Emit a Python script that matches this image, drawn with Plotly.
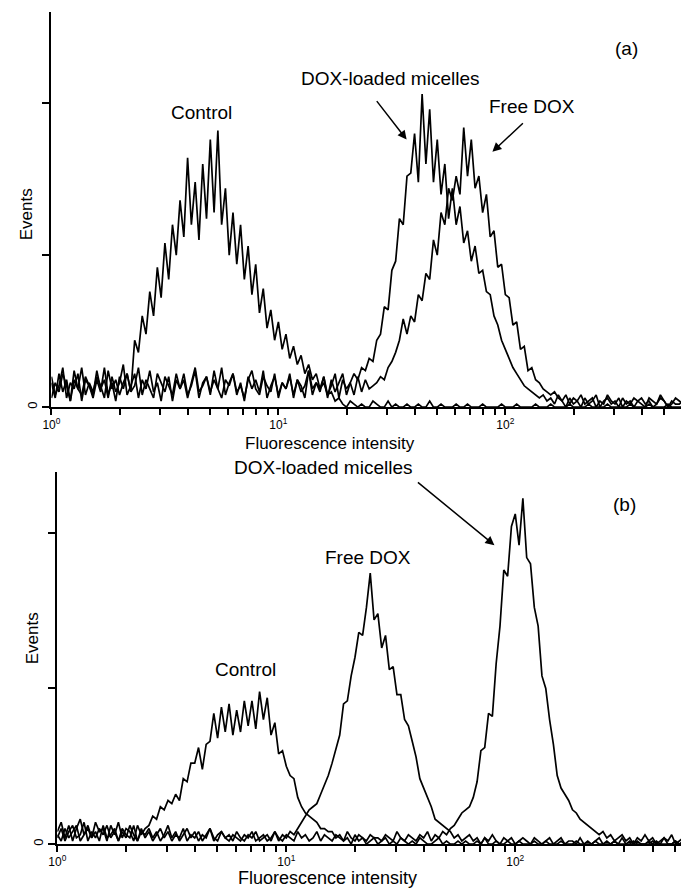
import numpy as np
import plotly.graph_objects as go

# Flow-cytometry histograms: event counts per log-spaced channel (60 channels per decade)
CHANNELS_PER_DECADE = 60

# (a) cell uptake
a_control = [
    8, 3, 11, 5, 9, 2, 12, 6, 4, 10, 7, 3,
    9, 5, 13, 4, 8, 2, 10, 6, 11, 5, 22, 18,
    30, 24, 38, 30, 46, 36, 54, 42, 60, 50, 68, 56,
    82, 60, 74, 55, 80, 62, 88, 64, 91, 60, 72, 50,
    64, 47, 60, 42, 53, 37, 47, 31, 39, 26, 32, 22,
    28, 19, 24, 16, 20, 14, 17, 11, 14, 9, 11, 6,
    8, 4, 5, 2, 3, 1, 0, 2, 1, 0, 1, 0,
    0, 2, 1, 0, 0, 2, 0, 1, 0, 0, 1, 0,
    0, 1, 0, 0, 2, 0, 0, 1, 0, 0, 0, 1,
    0, 0, 1, 0, 0, 0, 1, 0, 0, 0, 0, 1,
    0, 0, 0, 1, 0, 0, 0, 0, 1, 0, 0, 0,
    1, 0, 0, 0, 0, 1, 0, 0, 0, 0, 1, 0,
    0, 0, 0, 1, 0, 0, 0, 0, 0, 1, 0, 0,
    0, 0, 1, 0, 0, 0, 0, 1, 0, 0, 0, 0,
]
a_micelles = [
    10, 4, 7, 13, 3, 8, 6, 11, 2, 9, 7,
    4, 12, 6, 9, 3, 10, 5, 8, 14, 4, 7, 11,
    3, 9, 6, 12, 5, 8, 2, 10, 7, 4, 11, 6,
    9, 3, 8, 13, 5, 7, 10, 4, 12, 6, 3, 9,
    7, 11, 4, 8, 2, 10, 6, 9, 5, 12, 3, 7,
    10, 4, 8, 6, 11, 3, 9, 5, 7, 12, 4, 8,
    6, 10, 3, 9, 5, 8, 11, 4, 8, 11, 9, 13,
    12, 16, 15, 22, 24, 33, 32, 45, 48, 62, 60, 76,
    77, 90, 74, 103, 80, 98, 74, 88, 70, 80, 62, 72,
    60, 66, 54, 58, 48, 53, 44, 45, 38, 37, 30, 27,
    22, 19, 16, 13, 11, 9, 7, 6, 5, 4, 3, 4,
    2, 3, 1, 4, 2, 0, 3, 1, 2, 4, 1, 2,
    3, 0, 2, 1, 4, 2, 1, 3, 0, 2, 1, 3,
    2, 1, 0, 3, 2, 1, 4, 2, 0, 1, 3, 2, 1,
]
a_free = [
    3, 8, 5, 11, 7, 2, 9, 6, 13, 4,
    8, 5, 10, 7, 3, 12, 6, 9, 4, 8, 11, 5,
    7, 13, 4, 9, 6, 3, 11, 8, 5, 10, 2, 9,
    6, 11, 4, 7, 12, 3, 8, 10, 5, 9, 6, 13,
    4, 8, 11, 5, 7, 3, 9, 12, 6, 4, 10, 7,
    5, 11, 3, 8, 6, 10, 4, 9, 7, 3, 12, 6,
    8, 5, 10, 4, 7, 11, 3, 9, 6, 8, 4, 10,
    5, 9, 6, 7, 8, 10, 9, 13, 15, 18, 22, 29,
    24, 30, 28, 37, 35, 44, 42, 55, 50, 64, 60, 72,
    68, 76, 70, 92, 76, 88, 72, 76, 64, 70, 56, 58,
    46, 47, 37, 36, 27, 28, 19, 20, 12, 13, 9, 8,
    6, 5, 4, 5, 3, 2, 4, 1, 3, 2, 0, 3,
    1, 2, 4, 0, 2, 3, 1, 2, 0, 3, 1, 2,
    0, 2, 3, 1, 2, 0, 1, 3, 2, 0, 2, 1, 1, 2,
]

# (b)
b_control = [
    4, 7, 2, 6, 1, 5, 8, 3, 6, 2, 7, 4,
    5, 1, 6, 3, 7, 2, 5, 4, 1, 6, 3, 5,
    6, 9, 8, 12, 11, 14, 13, 16, 14, 21, 20, 26,
    26, 31, 24, 32, 33, 42, 34, 44, 36, 45, 35, 43,
    36, 46, 38, 46, 37, 49, 40, 47, 35, 39, 29, 30,
    25, 22, 21, 15, 12, 10, 9, 8, 7, 5, 5, 4,
    4, 2, 3, 1, 2, 0, 3, 1, 2, 0, 1, 2,
    0, 1, 2, 0, 1, 0, 2, 1, 0, 1, 0, 2,
    1, 0, 0, 1, 2, 0, 1, 0, 0, 1, 0, 1,
    0, 0, 1, 0, 2, 0, 0, 1, 0, 0, 1, 0,
    0, 1, 0, 0, 0, 1, 0, 0, 1, 0, 0, 0,
    1, 0, 0, 0, 1, 0, 0, 0, 0, 1, 0, 0,
    0, 0, 1, 0, 0, 0, 0, 1, 0, 0, 0, 0,
    1, 0, 0, 0, 0, 0, 1, 0, 0, 0, 0, 0,
]
b_free = [
    2, 5, 1, 4, 6, 2, 3, 7, 1, 4, 2, 5,
    3, 6, 2, 4, 1, 5, 3, 2, 6, 1, 4, 3,
    5, 2, 4, 1, 3, 6, 2, 4, 1, 3, 5, 2,
    4, 1, 3, 2, 5, 1, 3, 4, 2, 1, 3, 2,
    1, 3, 2, 4, 1, 2, 3, 1, 2, 4, 1, 3,
    2, 4, 3, 5, 7, 9, 11, 12, 13, 16, 19, 22,
    26, 31, 35, 45, 46, 54, 60, 68, 67, 76, 87, 72,
    74, 63, 67, 56, 57, 48, 48, 40, 38, 33, 28, 21,
    18, 15, 12, 8, 7, 6, 5, 4, 2, 3, 1, 2,
    3, 1, 2, 0, 2, 1, 3, 1, 0, 2, 1, 2,
    0, 1, 2, 1, 0, 2, 1, 0, 1, 2, 0, 1,
    2, 0, 1, 1, 0, 2, 0, 1, 0, 1, 2, 0,
    1, 0, 1, 0, 2, 0, 1, 0, 1, 0, 0, 1,
    0, 1, 0, 2, 0, 0, 1, 0, 1, 0, 0, 1,
]
b_micelles = [
    3, 1, 5, 2, 4, 6, 1, 3, 5, 2, 4, 1,
    6, 2, 3, 5, 1, 4, 2, 6, 3, 1, 5, 2,
    4, 1, 3, 5, 2, 4, 1, 3, 2, 5, 1, 3,
    2, 4, 1, 3, 5, 2, 1, 4, 2, 3, 1, 4,
    2, 1, 3, 2, 4, 1, 2, 3, 1, 4, 2, 1,
    3, 2, 1, 4, 2, 3, 1, 2, 4, 1, 3, 2,
    1, 3, 2, 1, 4, 2, 1, 3, 2, 1, 3, 2,
    2, 1, 3, 2, 1, 4, 2, 1, 3, 2, 1, 3,
    2, 4, 1, 3, 2, 4, 3, 5, 6, 8, 10, 11,
    12, 15, 20, 30, 31, 42, 41, 58, 70, 88, 86, 102,
    106, 96, 111, 92, 90, 76, 70, 54, 50, 40, 32, 22,
    18, 16, 14, 11, 10, 8, 7, 6, 5, 4, 3, 4,
    2, 3, 1, 2, 3, 1, 2, 0, 2, 1, 3, 1,
    2, 0, 1, 2, 1, 3, 0, 1, 2, 1, 0, 2,
]

# Axis ticks: labelled decades plus unlabelled minor ticks
x_major = [1, 10, 100]
x_major_labels = ["10<sup>0</sup>", "10<sup>1</sup>", "10<sup>2</sup>"]
x_minor = [2, 3, 4, 5, 6, 7, 8, 9,
           20, 30, 40, 50, 60, 70, 80, 90,
           200, 300, 400, 500]
y_major = [0]
y_major_labels = ["0"]
y_minor = [50, 100]

FONT = "Liberation Sans, Arial, sans-serif"
W, H = 681, 889


def intensities(counts):
    return 10 ** (np.arange(len(counts)) / CHANNELS_PER_DECADE)


fig = go.Figure()
for counts in (a_control, a_micelles, a_free):
    fig.add_trace(go.Scatter(x=intensities(counts), y=counts, mode="lines",
                             line=dict(color="black", width=1.7),
                             xaxis="x", yaxis="y", showlegend=False))
for counts in (b_control, b_free, b_micelles):
    fig.add_trace(go.Scatter(x=intensities(counts), y=counts, mode="lines",
                             line=dict(color="black", width=1.7),
                             xaxis="x2", yaxis="y2", showlegend=False))


def xaxis(left_px, log_max, anchor):
    return dict(type="log", range=[0, log_max], domain=[left_px / W, 1.0], anchor=anchor,
                showline=True, linecolor="black", linewidth=2, mirror=False,
                ticks="outside", ticklen=6, tickwidth=1.5, tickcolor="black",
                tickvals=x_major, ticktext=x_major_labels,
                minor=dict(tickvals=x_minor, ticks="outside", ticklen=6, tickwidth=1.5,
                           tickcolor="black", showgrid=False),
                tickfont=dict(family=FONT, size=12, color="black"),
                showgrid=False, zeroline=False, fixedrange=True)


def yaxis(bottom_px, top_px, y_max, anchor):
    return dict(range=[0, y_max], domain=[(H - bottom_px) / H, (H - top_px) / H], anchor=anchor,
                showline=True, linecolor="black", linewidth=2,
                ticks="outside", ticklen=7, tickwidth=1.5, tickcolor="black",
                tickvals=y_major, ticktext=y_major_labels, tickangle=-90,
                minor=dict(tickvals=y_minor, ticks="outside", ticklen=7, tickwidth=1.5,
                           tickcolor="black", showgrid=False),
                tickfont=dict(family=FONT, size=13, color="black"),
                showgrid=False, zeroline=False, fixedrange=True)


fig.update_layout(
    width=W, height=H,
    margin=dict(l=0, r=0, t=0, b=0),
    paper_bgcolor="white", plot_bgcolor="white",
    xaxis=xaxis(43, 2.774, "y"),
    yaxis=yaxis(408, 12, 130, "x"),
    xaxis2=xaxis(49, 2.724, "y2"),
    yaxis2=yaxis(846, 473, 119.5, "x2"),
    font=dict(family=FONT, color="black"),
)

label_font = dict(family=FONT, size=19, color="black")
arrow_style = dict(arrowhead=2, arrowsize=1.2, arrowwidth=1.5, arrowcolor="black")
notes = [
    # panel (a)
    dict(xref="x", yref="y", x=0.661, y=97, text="Control", showarrow=False),
    dict(xref="x", yref="y", x=1.49, y=108, text="DOX-loaded micelles", showarrow=False),
    dict(xref="x", yref="y", x=1.565, y=88, text="", showarrow=True, ax=-31, ay=-40, **arrow_style),
    dict(xref="x", yref="y", x=2.117, y=99, text="Free DOX", showarrow=False),
    dict(xref="x", yref="y", x=1.943, y=84, text="", showarrow=True, ax=32, ay=-30, **arrow_style),
    dict(xref="x", yref="y", x=2.535, y=118, text="(a)", showarrow=False),
    # panel (b)
    dict(xref="paper", yref="paper", x=410 / W, y=1 - 469 / H, text="DOX-loaded micelles",
         showarrow=False, xanchor="right"),
    dict(xref="x2", yref="y2", x=1.909, y=96, text="", showarrow=True, ax=-78, ay=-64, **arrow_style),
    dict(xref="x2", yref="y2", x=2.478, y=109, text="(b)", showarrow=False),
    dict(xref="x2", yref="y2", x=1.358, y=92, text="Free DOX", showarrow=False),
    dict(xref="x2", yref="y2", x=0.823, y=56, text="Control", showarrow=False),
]
for n in notes:
    n.setdefault("font", label_font)
    n.setdefault("xanchor", "center")
    n.setdefault("yanchor", "middle")
    fig.add_annotation(**n)

# Axis titles
for (cx, cy) in [(18, 215), (24, 640)]:
    fig.add_annotation(xref="paper", yref="paper", x=cx / W, y=1 - cy / H, text="Events",
                       textangle=-90, showarrow=False, xanchor="center", yanchor="middle",
                       font=dict(family=FONT, size=17, color="black"))
for (cx, cy, size) in [(325, 445, 17), (323, 880, 18)]:
    fig.add_annotation(xref="paper", yref="paper", x=cx / W, y=1 - cy / H,
                       text="Fluorescence intensity", showarrow=False,
                       xanchor="center", yanchor="middle",
                       font=dict(family=FONT, size=size, color="black"))

fig.write_html("out.html")
